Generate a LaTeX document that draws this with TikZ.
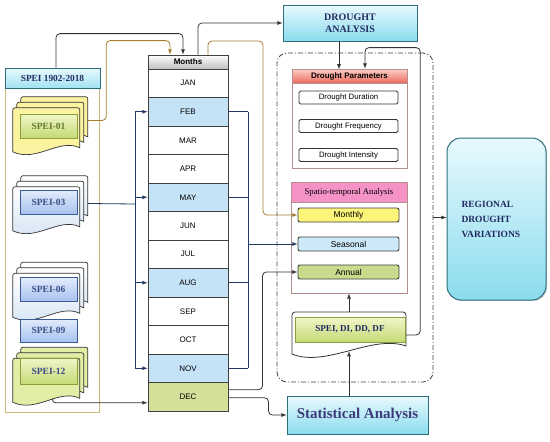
\documentclass[tikz,border=0pt]{standalone}
\usepackage{fontspec}
\setmainfont{Liberation Serif}
\setsansfont{Liberation Sans}
\usetikzlibrary{shadows}
\definecolor{busnavy}{HTML}{1F3864}
\definecolor{tanbrown}{HTML}{A67C2E}
\definecolor{khaki}{HTML}{C9B77D}
\definecolor{cellblue}{HTML}{C5E3F7}
\definecolor{cellgreen}{HTML}{D3E09A}
\definecolor{cyanlight}{HTML}{E8F9FD}
\definecolor{cyandeep}{HTML}{8ADCEE}
\definecolor{tealedge}{HTML}{2E6E7E}
\definecolor{titlenavy}{HTML}{232B63}
\definecolor{statnavy}{HTML}{3D3B7A}
\definecolor{redtop}{HTML}{FBD0C8}
\definecolor{redbot}{HTML}{EE6A5E}
\definecolor{pinkhead}{HTML}{F592C6}
\definecolor{roseedge}{HTML}{B58E8E}
\definecolor{monthlyfill}{HTML}{FDF57A}
\definecolor{seasonfill}{HTML}{CDE9F9}
\definecolor{annualfill}{HTML}{C9DB8C}
\definecolor{pageyellow}{HTML}{FBF3A0}
\definecolor{pagegreen}{HTML}{E2EDA6}
\definecolor{pageblue}{HTML}{D2E2F4}
\definecolor{lblgreentop}{HTML}{F0F6C8}
\definecolor{lblgreenbot}{HTML}{C6DA76}
\definecolor{lblgreenedge}{HTML}{8A9E3A}
\definecolor{lblbluetop}{HTML}{E2ECFC}
\definecolor{lblbluebot}{HTML}{A8C2EE}
\definecolor{lblblueedge}{HTML}{3A5A98}
\definecolor{olivetext}{HTML}{667A2A}
\definecolor{bluetext}{HTML}{3C4C86}
\begin{document}
\begin{tikzpicture}[x=1pt, y=-1pt,
  softshadow/.style={drop shadow={opacity=0.35, shadow xshift=1.2pt, shadow yshift=-1.2pt}},
  outerframe/.style={draw=khaki, line width=0.8pt, minimum width=94, minimum height=324, inner sep=0},
  sphead/.style={draw=tealedge, line width=0.6pt, top color=cyanlight, bottom color=cyandeep!80, softshadow, text=titlenavy, font=\bfseries\fontsize{9.3}{10}\selectfont, minimum width=95, minimum height=20, inner sep=0},
  stackarea/.style={minimum width=75, minimum height=55, inner sep=0},
  docpage/.pic={\path[pic actions] (0,44) [rounded corners=2]-- (0,0) -- (67,0) [sharp corners]-- (67,40) .. controls (46,30) and (24,55) .. (0,44) -- cycle;},
  greenlbl/.style={draw=lblgreenedge, line width=0.7pt, top color=lblgreentop, bottom color=lblgreenbot, softshadow, text=olivetext, font=\bfseries\fontsize{9.5}{10}\selectfont, minimum width=57, minimum height=24, inner sep=0},
  bluelbl/.style={draw=lblblueedge, line width=0.7pt, top color=lblbluetop, bottom color=lblbluebot, softshadow, text=bluetext, font=\bfseries\fontsize{9.5}{10}\selectfont, minimum width=57, minimum height=24, inner sep=0},
  monthhead/.style={draw=black!75, line width=0.8pt, top color=white, bottom color=black!25, font=\sffamily\bfseries\fontsize{8}{9}\selectfont, minimum width=80, minimum height=14, inner sep=0},
  cell/.style={draw=black!75, line width=1pt, font=\sffamily\fontsize{8}{9}\selectfont, minimum width=80, minimum height=28.5, inner sep=0},
  topbox/.style={draw=tealedge, line width=0.8pt, top color=cyanlight, bottom color=cyandeep, softshadow, text=titlenavy, align=center, inner sep=0},
  innerframe/.style={draw=roseedge, line width=0.8pt, fill=white, inner sep=0},
  parambox/.style={draw=black!80, line width=0.8pt, rounded corners=1.5, fill=white, font=\sffamily\fontsize{7.8}{8}\selectfont, minimum width=99, minimum height=13, inner sep=0},
  periodbox/.style={draw=black!75, line width=0.9pt, rounded corners=2, font=\sffamily\fontsize{8.5}{9}\selectfont, minimum width=101, minimum height=14, inner sep=0},
  busline/.style={draw=busnavy, line width=0.8pt},
  tanline/.style={draw=tanbrown, line width=0.8pt},
  darkline/.style={draw=black!80, line width=0.8pt}
]
\useasboundingbox (0,0) rectangle (550,442);

\node[draw=black!75, line width=0.8pt, dash pattern=on 5pt off 2pt on 1pt off 2pt, rounded corners=10, minimum width=156, minimum height=329, inner sep=0] (analysis) at (355,217.5) {};

\node[outerframe] (speiframe) at (52,250) {};
\node[sphead] (speihead) at (52.5,78) {SPEI 1902-2018};

\node[stackarea] (stack01) at (50.5,124.5) {};
\node[stackarea] (stack03) at (50.5,203.5) {};
\node[stackarea] (stack06) at (50.5,290) {};
\node[stackarea] (stack12) at (50.5,375) {};
\foreach \dx/\dy in {8/0, 4/5.5, 0/11} {
  \pic[draw=black!80, line width=0.7pt, fill=pageyellow] at ([shift={(\dx,\dy)}]stack01.north west) {docpage};
  \pic[draw=black!80, line width=0.7pt, top color=white, bottom color=pageblue] at ([shift={(\dx,\dy)}]stack03.north west) {docpage};
  \pic[draw=black!80, line width=0.7pt, top color=white, bottom color=pageblue] at ([shift={(\dx,\dy)}]stack06.north west) {docpage};
  \pic[draw=black!80, line width=0.7pt, fill=pagegreen] at ([shift={(\dx,\dy)}]stack12.north west) {docpage};
}
\node[greenlbl] (spei01) at (48.5,126) {SPEI-01};
\node[bluelbl] (spei03) at (48.5,202) {SPEI-03};
\node[bluelbl] (spei06) at (48.5,289) {SPEI-06};
\node[bluelbl, minimum height=23] (spei09) at (48.5,330.5) {SPEI-09};
\node[greenlbl, minimum height=26, text=bluetext] (spei12) at (48.5,371) {SPEI-12};

\node[monthhead] (months) at (188,62) {Months};
\foreach \m/\c [count=\i] in {JAN/white, FEB/cellblue, MAR/white, APR/white, MAY/cellblue, JUN/white, JUL/white, AUG/cellblue, SEP/white, OCT/white, NOV/cellblue, DEC/cellgreen}
  \node[cell, fill=\c] (\m) at (188, {69+28.5*(\i-0.5)}) {\m};

\node[topbox, minimum width=134, minimum height=36, font=\bfseries\fontsize{10}{11.5}\selectfont] (drought) at (350,23) {DROUGHT\\ANALYSIS};

\node[innerframe, minimum width=115, minimum height=99] (params) at (349.5,118.5) {};
\node[innerframe, top color=redtop, bottom color=redbot, minimum width=115, minimum height=14, font=\sffamily\bfseries\fontsize{8}{9}\selectfont] (paramhead) at (349.5,76) {Drought Parameters};
\node[parambox] (duration) at (348.5,97.5) {Drought Duration};
\node[parambox] (frequency) at (348.5,126) {Drought Frequency};
\node[parambox] (intensity) at (348.5,155) {Drought Intensity};

\node[innerframe, minimum width=116, minimum height=111] (spatio) at (349,237.5) {};
\node[innerframe, fill=pinkhead, minimum width=116, minimum height=20, font=\fontsize{8.7}{9}\selectfont] (spatiohead) at (349,192) {Spatio-temporal Analysis};
\node[periodbox, fill=monthlyfill] (monthly) at (348.5,215) {Monthly};
\node[periodbox, fill=seasonfill] (seasonal) at (348.5,244) {Seasonal};
\node[periodbox, fill=annualfill] (annual) at (348.5,272) {Annual};

\node[minimum width=114, minimum height=39, inner sep=0] (spdoc) at (349,331.5) {};
\draw[black!80, line width=0.8pt, fill=white] (292,354) [rounded corners=3]-- (292,312) -- (406,312) [sharp corners]-- (406,346) .. controls (372,334) and (326,368) .. (292,354) -- cycle;
\node[greenlbl, minimum width=110, minimum height=25, text=titlenavy, font=\bfseries\fontsize{9.1}{10}\selectfont] (indices) at (350,329.5) {SPEI, DI, DD, DF};

\node[topbox, minimum width=141, minimum height=38, text=statnavy, font=\bfseries\fontsize{15}{16}\selectfont] (stat) at (357.5,415) {Statistical Analysis};

\node[topbox, line width=1pt, rounded corners=14, minimum width=99, minimum height=162, text width=70, align=left, font=\bfseries\fontsize{9.5}{15}\selectfont] (regional) at (496.5,219) {REGIONAL\\DROUGHT\\VARIATIONS};

\coordinate (leftbus) at (135,204);
\coordinate (rightbus) at (248,244);
\coordinate (tanbend) at (263,41);

\draw[busline] (stack03.east) -- (leftbus);
\draw[busline] (leftbus |- FEB) -- (leftbus |- NOV);
\foreach \m in {FEB,MAY,AUG,NOV} {
  \draw[busline, -latex] (leftbus |- \m) -- (\m.west);
  \draw[busline] (\m.east) -- (rightbus |- \m);
}
\draw[busline] (rightbus |- FEB) -- (rightbus |- NOV);
\draw[busline, -latex] (rightbus |- seasonal) -- (seasonal.west);

\draw[darkline, -latex, rounded corners=4] ([xshift=3.5pt]speihead.north) |- ([shift={(-5,-21)}]months.north) -- ([xshift=-5pt]months.north);
\draw[tanline, -latex, rounded corners=4] ([yshift=4pt]stack01.east) -- ++(18,0) |- ([shift={(-18,-14)}]months.north) -- ([xshift=-18pt]months.north);
\draw[darkline, -latex, rounded corners=3] ([xshift=2pt,yshift=4pt]stack12.south) |- ([yshift=-6pt]DEC.west);

\draw[darkline, -latex, rounded corners=4] ([xshift=10pt]months.north) |- (drought.west);
\draw[tanline, -latex, rounded corners=4] ([xshift=20pt]months.north) |- (tanbend) |- (monthly.west);
\draw[darkline, -latex, rounded corners=4] ([yshift=7pt]DEC.east) -- ++(34,0) |- (annual.west);
\draw[darkline, -latex, rounded corners=4] ([yshift=-1pt]DEC.east) -- ++(40,0) |- (stat.west);

\draw[darkline, -latex] ([xshift=-11pt]drought.south) -- ++(0,28);
\draw[darkline, -latex, rounded corners=4] ([yshift=-3.5pt]spdoc.east) -- ++(14,0) |- ([shift={(15.5,-21)}]params.north) -- ([xshift=15.5pt]params.north);
\draw[darkline, -latex] (stat.north -| spdoc.south) -- (spdoc.south);
\draw[darkline, -latex] (spdoc.north) -- (spatio.south);
\draw[darkline, -latex] (analysis.east) -- (analysis.east -| regional.west);
\end{tikzpicture}
\end{document}
